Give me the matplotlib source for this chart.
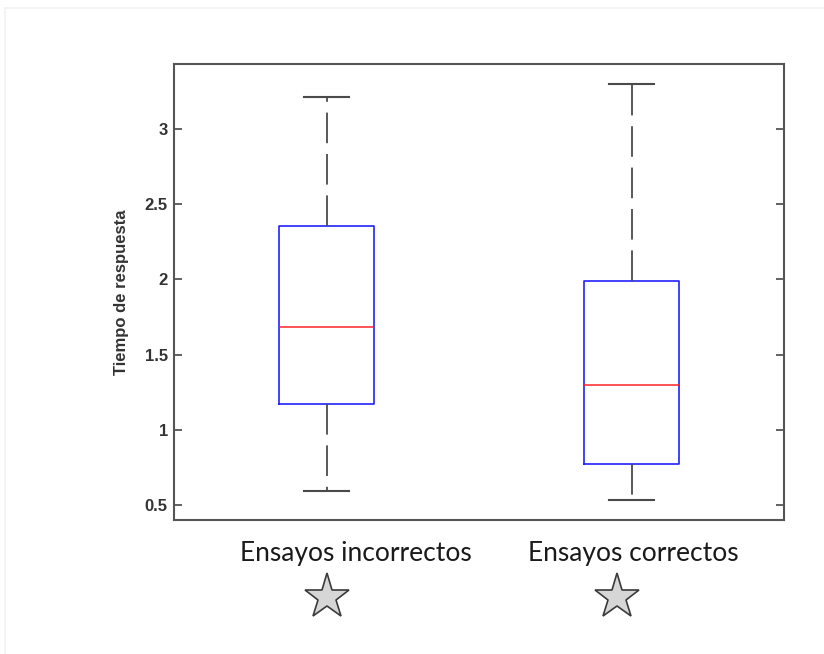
import matplotlib
matplotlib.use("Agg")
import matplotlib.pyplot as plt
from matplotlib.patches import Rectangle

# Response-time summaries for the two trial groups
groups = ["Ensayos incorrectos", "Ensayos correctos"]
whisker_low = [0.593, 0.533]
q1 = [1.172, 0.773]
median = [1.683, 1.298]
q3 = [2.355, 1.989]
whisker_high = [3.213, 3.299]
yticks = [0.5, 1, 1.5, 2, 2.5, 3]

fig = plt.figure(figsize=(8.24, 6.54), dpi=100)
fig.patch.set_facecolor("white")

# faint page frame
fig.add_artist(Rectangle((5 / 824, -0.01), 1.1, 1 - 8 / 654 + 0.01,
                         transform=fig.transFigure, fill=False,
                         edgecolor="#f1f1f1", lw=1.2))

ax = fig.add_axes([174 / 824, 1 - 520 / 654, 610 / 824, 456 / 654])

stats = []
for i, g in enumerate(groups):
    stats.append(dict(label=g, whislo=whisker_low[i], q1=q1[i], med=median[i],
                      q3=q3[i], whishi=whisker_high[i], fliers=[]))

lw = 1.5 * 0.72
ax.bxp(stats, positions=[1, 2], widths=0.31, showfliers=False,
       boxprops=dict(color="#1f1fff", lw=lw * 1.1),
       medianprops=dict(color="#ff2020", lw=lw),
       whiskerprops=dict(color="#4a4a4a", lw=lw * 1.2,
                         linestyle=(0, (17, 6))),
       capprops=dict(color="#4a4a4a", lw=lw * 1.4),
       capwidths=0.15)

ax.set_xlim(0.5, 2.5)
ax.set_ylim(0.40, 3.432)
ax.set_yticks(yticks)
ax.set_yticklabels([f"{t:g}" for t in yticks], fontsize=12,
                   fontweight="bold", color="#333333",
                   family="Liberation Sans")
ax.set_xticks([])
ax.tick_params(axis="y", direction="in", length=6, width=1.3,
               color="#555555", left=True, right=True, pad=4.5)
for s in ax.spines.values():
    s.set_color("#555555")
    s.set_linewidth(1.5)

ax.set_ylabel("Tiempo de respuesta", fontsize=12, fontweight="bold",
              color="#333333", family="Liberation Sans", labelpad=11)

# group names and star markers under the axes
label_x = [1.095, 2.005]
star_x = [1.0, 1.953]
for lx, sx, g in zip(label_x, star_x, groups):
    ax.text(lx, -33 / 456, g, transform=ax.get_xaxis_transform(),
            ha="center", va="center", fontsize=19, family="Lato",
            color="#1a1a1a")
    ax.plot([sx], [-77 / 456], marker="*", markersize=34,
            markerfacecolor="#d6d6d6", markeredgecolor="#3a3a3a",
            markeredgewidth=1.2, transform=ax.get_xaxis_transform(),
            clip_on=False)

fig.savefig("out.png", dpi=100, facecolor="white")
